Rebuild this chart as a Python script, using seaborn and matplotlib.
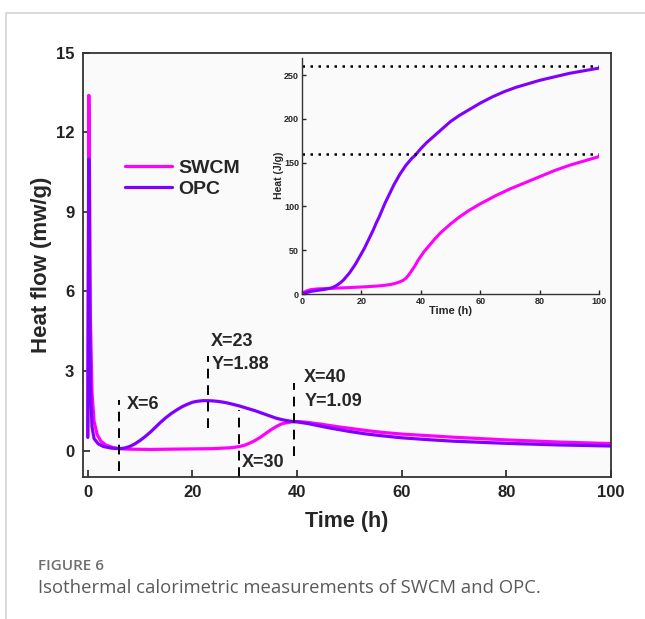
import numpy as np
import matplotlib
matplotlib.use("Agg")
import matplotlib.pyplot as plt
import pandas as pd
import seaborn as sns

# heat flow curves (mW/g)
swcm_t = [0, 0.2, 0.35, 0.5, 0.8, 1.2, 1.8, 2.5, 3.5, 5, 6, 8, 12, 16, 20, 24, 27, 28, 29,
          30, 31, 32, 33, 34, 35, 36, 37, 38, 39, 40, 41, 42, 44, 46, 48, 50, 53, 56, 60,
          65, 70, 80, 90, 100]
swcm_q = [0.5, 13.4, 10.0, 5.0, 2.2, 1.1, 0.6, 0.35, 0.2, 0.1, 0.07, 0.05, 0.04, 0.05, 0.06, 0.07, 0.1, 0.12, 0.15,
          0.2, 0.28, 0.38, 0.5, 0.64, 0.78, 0.9, 1.0, 1.05, 1.08, 1.09, 1.08, 1.06, 1.01, 0.95, 0.89, 0.84, 0.76, 0.69, 0.62,
          0.56, 0.5, 0.4, 0.32, 0.26]
opc_t = [0, 0.2, 0.35, 0.5, 0.8, 1.2, 2, 3, 4.5, 6, 7, 8, 9, 10, 11, 12, 13, 14, 15, 16, 17, 18, 19,
         20, 21, 22, 23, 24, 25, 26, 27, 28, 29, 30, 31, 32, 33, 34, 35, 36, 37, 38, 39, 40,
         42, 44, 46, 48, 50, 53, 56, 60, 65, 70, 75, 80, 90, 100]
opc_q = [0.5, 11.0, 6.0, 2.5, 0.9, 0.45, 0.25, 0.15, 0.09, 0.07, 0.09, 0.15, 0.25, 0.38, 0.53, 0.7, 0.89, 1.08, 1.25, 1.4, 1.53, 1.65, 1.74,
         1.82, 1.86, 1.88, 1.88, 1.87, 1.85, 1.82, 1.78, 1.73, 1.68, 1.62, 1.56, 1.5, 1.43, 1.36, 1.29, 1.22, 1.17, 1.13, 1.1, 1.08,
         1.02, 0.94, 0.86, 0.79, 0.72, 0.63, 0.56, 0.48, 0.41, 0.35, 0.31, 0.27, 0.21, 0.17]

# cumulative heat (J/g)
swcm_ht = [0, 1, 2, 3, 5, 10, 15, 20, 25, 28, 30, 31, 32, 33, 34, 35, 36, 37, 38, 39, 40,
           41, 42, 43, 44, 45, 47, 50, 53, 56, 60, 65, 70, 75, 80, 85, 90, 95, 100]
swcm_h = [0, 2.5, 4, 5, 5.8, 6.5, 7.2, 8, 9, 10, 11, 11.8, 12.8, 14, 15.5, 18, 22, 27, 32, 38, 43,
          48, 52, 56, 60, 64, 71, 80, 88, 95, 103, 112, 120, 127, 134, 141, 147, 152, 157]
opc_ht = [0, 1, 2, 3, 4, 5, 6, 8, 10, 11, 12, 13, 14, 15, 16, 17, 18, 19, 20, 21, 22, 23, 24, 25,
          26, 27, 28, 29, 30, 31, 32, 33, 34, 35, 36, 37, 38, 39, 40, 42, 44, 46, 48, 50, 53, 56,
          60, 64, 68, 72, 76, 80, 85, 90, 95, 100]
opc_h = [0, 1, 2, 3, 3.5, 4, 4.5, 5.5, 7, 8.5, 10.5, 13, 16, 20, 24, 29, 34, 40, 46, 52, 59, 66, 73, 81,
         88, 96, 104, 111, 118, 125, 131, 137, 142, 147, 151, 155, 158, 162, 166, 173, 179, 185, 191, 197, 204, 210,
         218, 225, 231, 236, 240, 244, 248, 252, 255, 258]

limits = [260, 160]
marks = [
    # x, y bottom, y top
    (6, -0.76, 1.9),
    (23, 0.84, 3.55),
    (29, -1.0, 1.52),
    (39.5, -0.19, 2.55),
]
notes = [
    ("X=6", 7.4, 1.72),
    ("X=23", 23.6, 4.1),
    ("Y=1.88", 23.6, 3.23),
    ("X=30", 29.4, -0.44),
    ("X=40", 41.4, 2.74),
    ("Y=1.09", 41.4, 1.84),
]

c_swcm = "#ff00ff"
c_opc = "#8000ff"

sns.set_theme(style="ticks")
plt.rcParams["font.family"] = ["Liberation Sans", "DejaVu Sans"]
plt.rcParams["font.weight"] = "bold"
plt.rcParams["axes.labelweight"] = "bold"

fig = plt.figure(figsize=(6.45, 6.19), dpi=100)
fig.patch.set_facecolor("white")

# page frame lines of the screenshot
fig.add_artist(plt.Line2D([6 / 645, 1], [1 - 13 / 619, 1 - 13 / 619], color="#d4d4d4", lw=1.2))
fig.add_artist(plt.Line2D([6 / 645, 6 / 645], [0, 1 - 13 / 619], color="#d4d4d4", lw=1.2))

ax = fig.add_axes([0.128, 0.2294, 0.819, 0.685])
ax.set_facecolor("#fafafa")

df_main = pd.concat([
    pd.DataFrame({"t": swcm_t, "q": swcm_q, "s": "SWCM"}),
    pd.DataFrame({"t": opc_t, "q": opc_q, "s": "OPC"}),
])
sns.lineplot(data=df_main[df_main.s == "SWCM"], x="t", y="q", color=c_swcm, lw=2.3,
             label="SWCM", ax=ax, sort=False)
sns.lineplot(data=df_main[df_main.s == "OPC"], x="t", y="q", color=c_opc, lw=2.3,
             label="OPC", ax=ax, sort=False)

for x, y0, y1 in marks:
    ax.plot([x, x], [y0, y1], color="black", lw=1.4, ls=(0, (5, 3.5)))
for txt, x, y in notes:
    ax.text(x, y, txt, fontsize=13, fontweight="bold", ha="left", va="center")

ax.set_xlim(-1, 100)
ax.set_ylim(-1, 15)
ax.set_xticks([0, 20, 40, 60, 80, 100])
ax.set_yticks([0, 3, 6, 9, 12, 15])
ax.tick_params(direction="in", length=5, width=1.2, labelsize=12, colors="#222222", pad=6)
ax.set_xlabel("Time (h)", fontsize=15.5, fontweight="bold", labelpad=8)
ax.set_ylabel("Heat flow (mw/g)", fontsize=16, fontweight="bold", labelpad=3)
for sp in ax.spines.values():
    sp.set_color("#333333")
    sp.set_linewidth(1.3)

leg = ax.legend(loc="upper left", bbox_to_anchor=(0.048, 0.79), frameon=False,
                fontsize=14, handlelength=2.4, handletextpad=0.3, labelspacing=0.15)
for t in leg.get_texts():
    t.set_fontweight("bold")

# inset with cumulative heat
ins = fig.add_axes([0.468, 0.525, 0.461, 0.382])
ins.patch.set_alpha(0)
sns.lineplot(x=swcm_ht, y=swcm_h, color=c_swcm, lw=2.2, ax=ins)
sns.lineplot(x=opc_ht, y=opc_h, color=c_opc, lw=2.2, ax=ins)
for lim in limits:
    ins.plot([0, 100], [lim, lim], color="black", lw=1.8, ls=(0, (1, 2.2)))
ins.set_xlim(0, 100)
ins.set_ylim(0, 270)
ins.set_xticks([0, 20, 40, 60, 80, 100])
ins.set_yticks([0, 50, 100, 150, 200, 250])
ins.tick_params(direction="in", length=3, width=1, labelsize=6.5, pad=2)
ins.set_xlabel("Time (h)", fontsize=8, fontweight="bold", labelpad=0)
ins.set_ylabel("Heat (J/g)", fontsize=7.5, fontweight="bold", labelpad=0)
ins.spines["top"].set_visible(False)
ins.spines["right"].set_visible(False)
for s in ["left", "bottom"]:
    ins.spines[s].set_color("#333333")
    ins.spines[s].set_linewidth(1)

fig.text(38 / 645, 1 - 566 / 619, "FIGURE 6", fontsize=11, color="#6e6e6e",
         family=["Open Sans", "DejaVu Sans"], fontweight="semibold", va="center")
fig.text(38 / 645, 1 - 588 / 619, "Isothermal calorimetric measurements of SWCM and OPC.",
         fontsize=13.3, color="#5a5a5a", family=["Open Sans", "DejaVu Sans"],
         fontweight="normal", va="center")

fig.savefig("out.png", dpi=100)
